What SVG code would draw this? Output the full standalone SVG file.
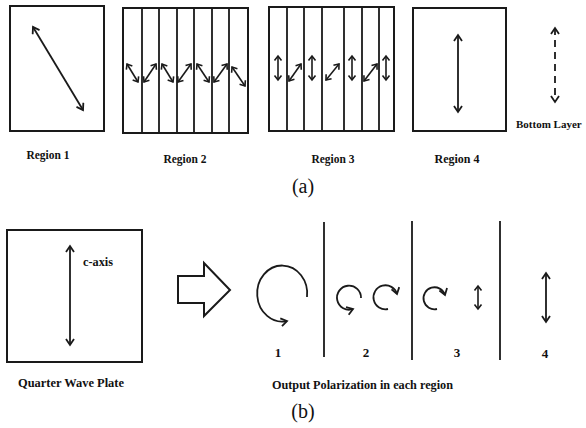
<svg xmlns="http://www.w3.org/2000/svg" width="586" height="428" viewBox="0 0 586 428">
<style>
.box{fill:none;stroke:#1a1a1a;stroke-width:2}
.ln{fill:none;stroke:#1a1a1a;stroke-width:1.8}
.ar{fill:none;stroke:#1a1a1a;stroke-width:1.8;marker-start:url(#ch);marker-end:url(#ch)}
.ae{fill:none;stroke:#1a1a1a;stroke-width:1.8;marker-end:url(#ch)}
.sm{fill:none;stroke:#1a1a1a;stroke-width:1.6;marker-start:url(#chs);marker-end:url(#chs)}
.lb{font-family:"Liberation Serif",serif;font-weight:bold;font-size:13px;fill:#111}
.cap{font-family:"Liberation Serif",serif;font-size:20px;fill:#111}
</style>
<defs>
<marker id="ch" markerUnits="userSpaceOnUse" viewBox="-8 -5 10 10" markerWidth="10" markerHeight="10" refX="0" refY="0" orient="auto-start-reverse">
<path d="M-6,-4 L0,0 L-6,4" fill="none" stroke="#1a1a1a" stroke-width="1.8"/>
</marker>
<marker id="chs" markerUnits="userSpaceOnUse" viewBox="-8 -5 10 10" markerWidth="10" markerHeight="10" refX="0" refY="0" orient="auto-start-reverse">
<path d="M-4.5,-3.5 L0,0 L-4.5,3.5" fill="none" stroke="#1a1a1a" stroke-width="1.6"/>
</marker>
</defs>

<g id="region1">
<rect class="box" x="10" y="6" width="94" height="125"/>
<line class="ar" x1="33" y1="27" x2="83" y2="110"/>
<text class="lb" x="48" y="159" text-anchor="middle" textLength="43" lengthAdjust="spacingAndGlyphs">Region 1</text>
</g>

<g id="region2">
<rect class="box" x="123" y="8" width="125" height="125"/>
<path class="ln" d="M142,8V133M159,8V133M177,8V133M194,8V133M212,8V133M229,8V133"/>
<line class="sm" x1="127" y1="64" x2="138" y2="82"/>
<line class="sm" x1="144" y1="82" x2="156" y2="64"/>
<line class="sm" x1="162" y1="64" x2="173" y2="82"/>
<line class="sm" x1="178" y1="82" x2="191" y2="64"/>
<line class="sm" x1="197" y1="64" x2="209" y2="82"/>
<line class="sm" x1="214" y1="82" x2="227" y2="64"/>
<line class="sm" x1="232" y1="67" x2="245" y2="86"/>
<text class="lb" x="185" y="163" text-anchor="middle" textLength="43" lengthAdjust="spacingAndGlyphs">Region 2</text>
</g>

<g id="region3">
<rect class="box" x="269" y="7" width="125" height="124"/>
<path class="ln" d="M287,7V131M304,7V131M322,7V131M344,7V131M362,7V131M379,7V131"/>
<line class="sm" x1="278" y1="56" x2="278" y2="80"/>
<line class="sm" x1="289" y1="81" x2="301" y2="64"/>
<line class="sm" x1="312" y1="56" x2="312" y2="80"/>
<line class="sm" x1="326" y1="80" x2="339" y2="64"/>
<line class="sm" x1="352" y1="56" x2="352" y2="80"/>
<line class="sm" x1="364" y1="81" x2="377" y2="64"/>
<line class="sm" x1="386" y1="56" x2="386" y2="80"/>
<text class="lb" x="333" y="163" text-anchor="middle" textLength="43" lengthAdjust="spacingAndGlyphs">Region 3</text>
</g>

<g id="region4">
<rect class="box" x="413" y="8" width="93" height="123"/>
<line class="ar" x1="458" y1="35" x2="458" y2="112"/>
<text class="lb" x="457" y="163" text-anchor="middle" textLength="45" lengthAdjust="spacingAndGlyphs">Region 4</text>
</g>

<g id="bottom-layer">
<line class="ar" x1="555" y1="28" x2="555" y2="102" stroke-dasharray="7,5"/>
<text class="lb" x="516" y="128" style="font-size:11px">Bottom Layer</text>
</g>

<text class="cap" x="303" y="193" text-anchor="middle">(a)</text>

<g id="quarter-wave-plate">
<rect class="box" x="7" y="230" width="135" height="132"/>
<line class="ar" x1="70" y1="246" x2="70" y2="345"/>
<text class="lb" x="83" y="266" textLength="30" lengthAdjust="spacingAndGlyphs">c-axis</text>
<text class="lb" x="18" y="387" textLength="106" lengthAdjust="spacingAndGlyphs">Quarter Wave Plate</text>
</g>

<g id="block-arrow">
<polygon points="178,276 204,276 204,263 230,290 204,316 204,303 178,303" fill="#fff" stroke="#1a1a1a" stroke-width="2"/>
</g>

<g id="output">
<path class="ln" d="M324,222V357M412,221V360M500,221V360"/>
<path class="ae" d="M307,297 A25,28 0 1,0 287,321"/>
<path class="ae" d="M361,298 A12,12 0 1,0 353,309"/>
<path class="ae" d="M388,309 A12,12 0 1,1 397,294"/>
<path class="ae" d="M437,309 A11,11 0 1,1 445,295"/>
<line class="sm" x1="478" y1="286" x2="478" y2="309"/>
<line class="ar" x1="546" y1="273" x2="546" y2="322"/>
<text class="lb" x="278" y="357" text-anchor="middle">1</text>
<text class="lb" x="366" y="357" text-anchor="middle">2</text>
<text class="lb" x="457" y="357" text-anchor="middle">3</text>
<text class="lb" x="545" y="358" text-anchor="middle">4</text>
<text class="lb" x="272" y="389" textLength="181" lengthAdjust="spacingAndGlyphs">Output Polarization in each region</text>
</g>

<text class="cap" x="303" y="418" text-anchor="middle">(b)</text>
</svg>
